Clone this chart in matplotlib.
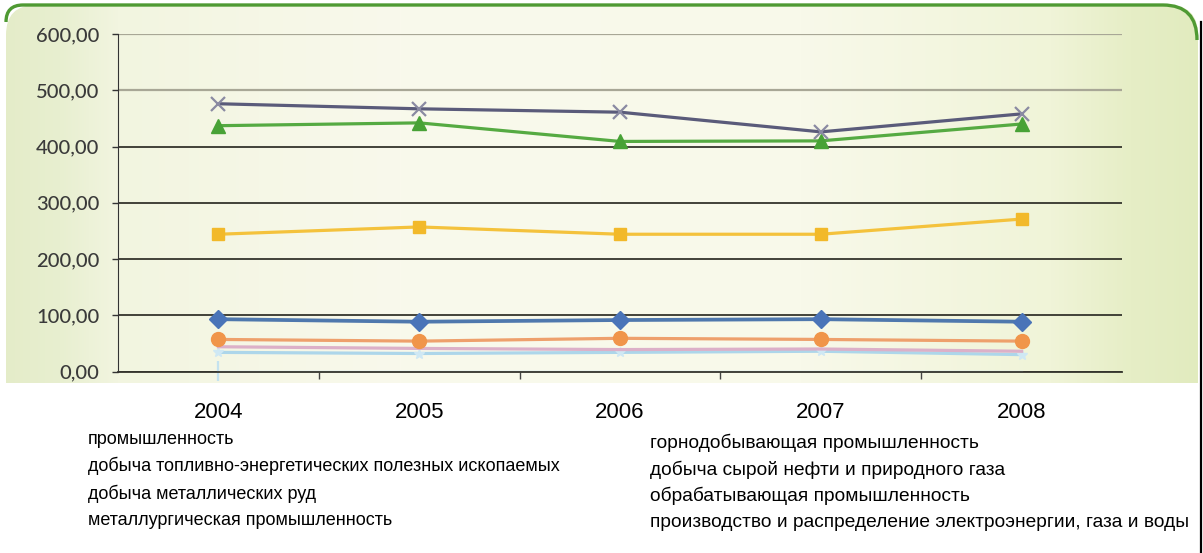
import numpy as np
import matplotlib
matplotlib.use("Agg")
import matplotlib.pyplot as plt
from matplotlib.patches import FancyBboxPatch, Rectangle, PathPatch
from matplotlib.path import Path
from matplotlib.ticker import FuncFormatter, FixedLocator

# данные по годам
years = ["2004", "2005", "2006", "2007", "2008"]

promyshl = [93, 88.5, 91.5, 93, 88.5]
gornodob = [244, 257, 244, 244, 271]
toplivo = [437, 442, 409, 410, 440]
neft_gaz = [476, 467, 461, 426, 458]
metall_rudy = [34, 32, 34, 36, 30]
obrabat = [57, 54, 59, 57, 54]
metallurg = [44, 41, 39, 40, 36]
elektro = [0.5, 0.5, 0.5, 0.5, 0.5]

# подписи рядов (порядок как в легенде Excel: по строкам)
names_left = [
    "промышленность",
    "добыча топливно-энергетических полезных ископаемых",
    "добыча металлических руд",
    "металлургическая промышленность",
]
names_right = [
    "горнодобывающая промышленность",
    "добыча сырой нефти и природного газа",
    "обрабатывающая промышленность",
    "производство и распределение электроэнергии, газа и воды",
]

W, H = 1203, 553
fig = plt.figure(figsize=(W / 100, H / 100), dpi=100)
fig.patch.set_facecolor("white")

# фон-подложка диаграммы (скруглённая панель с градиентом)
bg = fig.add_axes([0, 0, 1, 1], zorder=-5)
bg.set_xlim(0, W)
bg.set_ylim(H, 0)
bg.axis("off")

xs = np.array([0, 60, 118, 400, 800, 1050, 1130, 1203])
cols = np.array([
    [228, 236, 200],
    [232, 239, 208],
    [242, 245, 224],
    [249, 249, 236],
    [248, 249, 234],
    [240, 244, 216],
    [230, 238, 198],
    [225, 235, 190],
]) / 255.0
gx = np.arange(W)
grad = np.stack([np.interp(gx, xs, cols[:, k]) for k in range(3)], axis=-1)
grad = np.repeat(grad[None, :, :], 8, axis=0)
img = bg.imshow(grad, extent=[0, W, 400, 0], aspect="auto", zorder=0)
panel = FancyBboxPatch((6, 5), 1192, 600, boxstyle="round,pad=0,rounding_size=30",
                       transform=bg.transData, facecolor="none", edgecolor="none")
bg.add_patch(panel)
img.set_clip_path(panel)

# нижняя белая часть
bg.add_patch(Rectangle((0, 383), W, H - 383, facecolor="white", edgecolor="none", zorder=1))

# зелёная кромка сверху
verts = [(6, 22), (6, 5), (23, 5), (1163, 5), (1197, 5), (1197, 40)]
codes = [Path.MOVETO, Path.CURVE3, Path.CURVE3, Path.LINETO, Path.CURVE3, Path.CURVE3]
bg.add_patch(PathPatch(Path(verts, codes), facecolor="none", edgecolor="#4f9a33", lw=2.4, zorder=2))
bg.plot([1201, 1201], [22, H], color="black", lw=1.6, zorder=2)

# область построения
ax = fig.add_axes([118 / W, 1 - 371.5 / H, (1122 - 118) / W, (371.5 - 34) / H])
ax.set_facecolor("none")
x = np.arange(len(years))

lw = 2.3
ax.plot(x, elektro, color="#c4e2ef", lw=1.0, marker="|", ms=14, mew=1.6,
        markevery=[0], clip_on=False, zorder=1.5)
ax.plot(x, metall_rudy, color="#add6ea", lw=lw, marker="*", ms=7, mfc="#cfe8f4",
        mec="#cfe8f4", zorder=3)
ax.plot(x, metallurg, color="#dcb0c8", lw=lw, zorder=3)
ax.plot(x, obrabat, color="#eea06c", lw=lw, marker="o", ms=10, mfc="#f0954a",
        mec="#f0954a", zorder=4)
ax.plot(x, promyshl, color="#4f78ad", lw=lw + 0.4, marker="D", ms=9, mfc="#4a74b8",
        mec="#4a74b8", zorder=5)
ax.plot(x, gornodob, color="#f4c23c", lw=lw, marker="s", ms=9, mfc="#f2b92a",
        mec="#f2b92a", zorder=4)
ax.plot(x, toplivo, color="#55aa42", lw=lw, marker="^", ms=10, mfc="#48a236",
        mec="#48a236", zorder=4)
ax.plot(x, neft_gaz, color="#5a5b7a", lw=lw, marker="x", ms=10, mew=1.6,
        mec="#8a8aa2", zorder=4)

ax.set_xlim(-0.5, len(years) - 0.5)
ax.set_ylim(0, 600)

# ось Y
yt = np.arange(0, 601, 100)
ax.set_yticks(yt)
ax.yaxis.set_major_formatter(FuncFormatter(lambda v, _: f"{v:.2f}".replace(".", ",")))
ax.tick_params(axis="y", direction="out", length=4.5, width=1, color="#333333",
               pad=9, labelsize=14.5, labelcolor="#3a3a3a")
for lab in ax.get_yticklabels():
    lab.set_family("Lato")
    lab.set_fontweight("medium")

ax.yaxis.grid(True, lw=1.3)
for gl, v in zip(ax.get_ygridlines(), yt):
    gl.set_color("#a8a796" if v >= 500 else "#34342c")
    if v >= 500:
        gl.set_linewidth(1.6)
ax.set_axisbelow(True)

# ось X: подписи по центрам категорий, риски между ними
ax.set_xticks(x)
ax.set_xticklabels(years, family="Liberation Sans", fontsize=16, color="black")
ax.tick_params(axis="x", which="major", length=0, pad=22)
ax.xaxis.set_minor_locator(FixedLocator(x[:-1] + 0.5))
ax.tick_params(axis="x", which="minor", direction="out", length=5, width=1, color="#444444")

for s in ["top", "right"]:
    ax.spines[s].set_visible(False)
ax.spines["left"].set_color("#333333")
ax.spines["bottom"].set_color("#34342c")
ax.spines["bottom"].set_linewidth(1.3)
ax.spines["bottom"].set_zorder(2)

# легенда без маркеров, два столбца
for i, name in enumerate(names_left):
    fig.text(88 / W, 1 - (439 + 27.3 * i) / H, name, family="Liberation Sans",
             fontsize=13.0, va="center", ha="left", color="black")
for i, name in enumerate(names_right):
    fig.text(650 / W, 1 - (443 + 26.5 * i) / H, name, family="Liberation Sans",
             fontsize=13.8, va="center", ha="left", color="black")

fig.savefig("out.png", dpi=100)
